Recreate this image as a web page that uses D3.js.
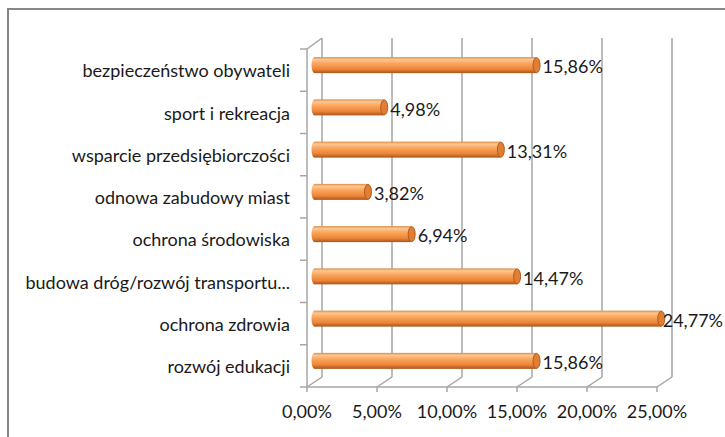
<!DOCTYPE html>
<html>
<head>
<meta charset="utf-8">
<script src="https://cdn.jsdelivr.net/npm/d3@7"></script>
<style>
  body { margin: 0; background: #fff; }
  text { font-family: Lato, "Open Sans", sans-serif; fill: #1a1a1a; }
</style>
</head>
<body>
<svg width="725" height="437"></svg>
<script>
// categories top to bottom, as shown
var categories = ['bezpieczeństwo obywateli', 'sport i rekreacja', 'wsparcie przedsiębiorczości',
  'odnowa zabudowy miast', 'ochrona środowiska', 'budowa dróg/rozwój transportu...',
  'ochrona zdrowia', 'rozwój edukacji']
var values = [15.86, 4.98, 13.31, 3.82, 6.94, 14.47, 24.77, 15.86]
var ticks = [0, 5, 10, 15, 20, 25]

var fmt = function(v) { return v.toFixed(2).replace('.', ',') + '%' }

var svg = d3.select('svg')

// frame of the chart area
svg.append('path')
  .attr('d', 'M8,437 V9 H725')
  .attr('fill', 'none')
  .attr('stroke', '#878787')
  .attr('stroke-width', 2)

// back wall scale, plus a depth offset for the front edge
var x = d3.scaleLinear().domain([0, 25]).range([322, 672])
var y = d3.scaleBand().domain(categories).range([49, 387])
var dx = -15, dy = 10
var wallTop = 38, floorY = 377

var defs = svg.append('defs')
var grad = defs.append('linearGradient')
  .attr('id', 'cyl').attr('x1', 0).attr('y1', 0).attr('x2', 0).attr('y2', 1)
grad.selectAll('stop')
  .data([[0, '#e08a45'], [0.15, '#fdc792'], [0.4, '#faa55c'], [0.75, '#ec8538'], [1, '#a9561b']])
  .enter().append('stop')
  .attr('offset', function(d) { return d[0] })
  .attr('stop-color', function(d) { return d[1] })

var grid = svg.append('g')
  .attr('stroke', '#a6a6a6')
  .attr('stroke-width', 1.5)
  .attr('fill', 'none')

// back wall gridlines
grid.selectAll('line.back')
  .data(ticks)
  .enter().append('line')
  .attr('x1', function(d) { return x(d) }).attr('x2', function(d) { return x(d) })
  .attr('y1', wallTop).attr('y2', floorY)

// floor gridlines
grid.selectAll('line.floor')
  .data(ticks)
  .enter().append('line')
  .attr('x1', function(d) { return x(d) }).attr('y1', floorY)
  .attr('x2', function(d) { return x(d) + dx }).attr('y2', floorY + dy)

// front floor edge and ticks
grid.append('line')
  .attr('x1', x(0) + dx).attr('x2', x(25) + dx)
  .attr('y1', floorY + dy).attr('y2', floorY + dy)
grid.selectAll('line.tick')
  .data(ticks)
  .enter().append('line')
  .attr('x1', function(d) { return x(d) + dx }).attr('x2', function(d) { return x(d) + dx })
  .attr('y1', floorY + dy).attr('y2', floorY + dy + 5)

// left wall: front edge, top slant, category ticks
grid.append('line')
  .attr('x1', x(0) + dx).attr('x2', x(0) + dx)
  .attr('y1', wallTop + dy + 1).attr('y2', floorY + dy)
grid.append('line')
  .attr('x1', x(0) + dx).attr('y1', wallTop + dy + 1)
  .attr('x2', x(0)).attr('y2', wallTop)
var catTicks = categories.map(function(c) { return y(c) }).concat([y.range()[1]])
grid.selectAll('line.cat')
  .data(catTicks)
  .enter().append('line')
  .attr('x1', x(0) + dx - 7).attr('x2', x(0) + dx)
  .attr('y1', function(d) { return d }).attr('y2', function(d) { return d })

// bars as cylinders at mid depth
var bh = 16
var mx = dx / 2, my = dy / 2
var bars = svg.selectAll('g.bar')
  .data(values)
  .enter().append('g')
  .attr('transform', function(d, i) {
    return 'translate(0,' + (y(categories[i]) + y.bandwidth() / 2 - my) + ')'
  })

bars.append('ellipse')
  .attr('cx', x(0) + mx).attr('cy', 0)
  .attr('rx', 3).attr('ry', bh / 2)
  .attr('fill', 'url(#cyl)')
bars.append('rect')
  .attr('x', x(0) + mx)
  .attr('y', -bh / 2)
  .attr('width', function(d) { return x(d) - x(0) })
  .attr('height', bh)
  .attr('fill', 'url(#cyl)')
bars.append('ellipse')
  .attr('cx', function(d) { return x(d) + mx }).attr('cy', 0)
  .attr('rx', 3.5).attr('ry', bh / 2 - 0.5)
  .attr('fill', '#e07f33')
  .attr('stroke', '#b05c1c')
  .attr('stroke-width', 1)

bars.append('text')
  .attr('x', function(d) { return x(d) + mx + 6 })
  .attr('y', 2)
  .attr('dy', '0.35em')
  .style('font-size', '18px')
  .text(function(d) { return fmt(d) })
  .each(function() {
    // keep the label inside the picture
    var bb = this.getBBox()
    if (bb.x + bb.width > 723) d3.select(this).attr('x', 723 - bb.width)
  })

// category labels
svg.selectAll('text.cat')
  .data(categories)
  .enter().append('text')
  .attr('x', 290)
  .attr('y', function(d) { return y(d) + y.bandwidth() / 2 + 1 })
  .attr('dy', '0.35em')
  .attr('text-anchor', 'end')
  .style('font-size', '18px')
  .text(function(d) { return d })

// value axis labels
svg.selectAll('text.tick')
  .data(ticks)
  .enter().append('text')
  .attr('x', function(d) { return x(d) + dx })
  .attr('y', 412)
  .attr('dy', '0.35em')
  .attr('text-anchor', 'middle')
  .style('font-size', '18px')
  .text(function(d) { return fmt(d) })
</script>
</body>
</html>
